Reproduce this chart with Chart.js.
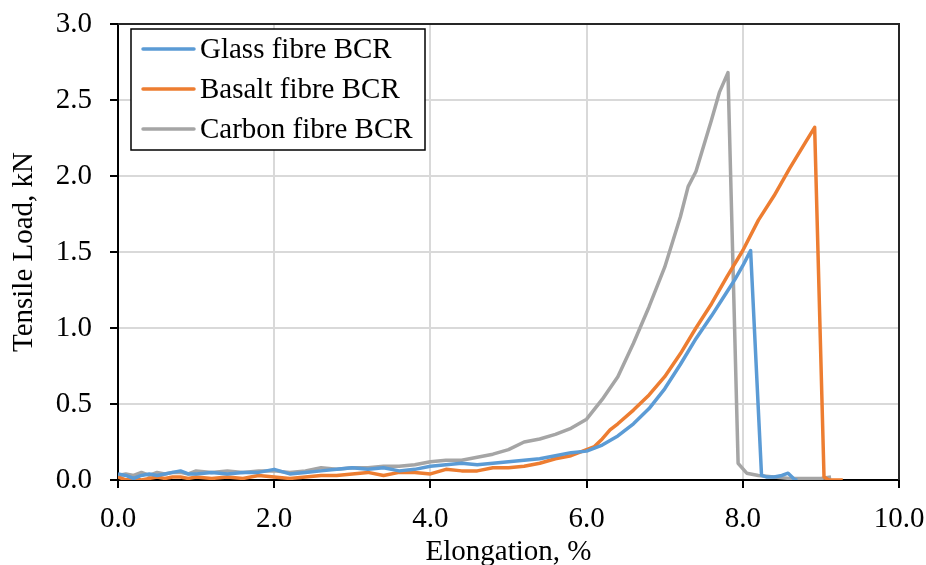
<!DOCTYPE html>
<html>
<head>
<meta charset="utf-8">
<script src="https://cdn.jsdelivr.net/npm/chart.js@4.4.1/dist/chart.umd.min.js"></script>
<style>
html,body{margin:0;padding:0;background:#fff;}
#wrap{width:926px;height:565px;position:relative;}
</style>
</head>
<body>
<div id="wrap"><canvas id="c" width="926" height="565"></canvas></div>
<script>
const seriesNames = ['Glass fibre BCR', 'Basalt fibre BCR', 'Carbon fibre BCR'];
const xTitle = 'Elongation, %';
const yTitle = 'Tensile Load, kN';

const glassX = [0,0.1,0.2,0.3,0.4,0.5,0.6,0.7,0.8,0.9,
  1.0,1.2,1.4,1.6,1.8,2.0,2.2,2.4,2.6,2.8,3.0,3.2,3.4,3.6,3.8,4.0,4.2,4.4,4.6,4.8,5.0,5.2,5.4,5.6,5.8,
  6.0,6.2,6.4,6.6,6.8,7.0,7.2,7.4,7.6,7.8,
  7.9,8.0,8.05,8.1,
  8.24,8.3,8.4,8.5,8.58,8.67,8.7];
const glassY = [0.04,0.03,0.01,0.03,0.04,0.03,0.04,0.05,0.06,0.04,
  0.04,0.05,0.04,0.05,0.05,0.07,0.04,0.05,0.06,0.07,0.08,0.07,0.08,0.06,0.07,0.09,0.10,0.11,0.10,0.11,0.12,0.13,0.14,0.16,0.18,
  0.19,0.23,0.29,0.37,0.47,0.60,0.76,0.93,1.08,1.24,
  1.32,1.41,1.46,1.51,
  0.03,0.02,0.02,0.03,0.045,0.0,0.0];

const basaltX = [0,0.1,0.2,0.3,0.4,0.5,0.6,0.7,0.8,0.9,
  1.0,1.2,1.4,1.6,1.8,2.0,2.2,2.4,2.6,2.8,3.0,3.2,3.4,3.6,3.8,4.0,4.2,4.4,4.6,4.8,5.0,5.2,5.4,5.6,5.8,
  6.0,6.1,6.2,6.3,6.4,6.6,6.8,7.0,7.2,7.4,7.6,7.8,8.0,8.2,8.4,8.6,8.8,
  8.92,9.04,9.1,9.28];
const basaltY = [0.02,0.0,0.01,0.0,0.01,0.02,0.01,0.02,0.02,0.01,
  0.02,0.01,0.02,0.01,0.03,0.02,0.01,0.02,0.03,0.03,0.04,0.05,0.03,0.05,0.05,0.04,0.07,0.06,0.06,0.08,0.08,0.09,0.11,0.14,0.16,
  0.20,0.22,0.27,0.33,0.37,0.46,0.56,0.68,0.83,1.00,1.16,1.34,1.51,1.71,1.87,2.05,2.22,
  2.32,0.02,0.0,0.0];

const carbonX = [0,0.1,0.2,0.3,0.4,0.5,0.6,0.7,0.8,0.9,
  1.0,1.2,1.4,1.6,1.8,2.0,2.2,2.4,2.6,2.8,3.0,3.2,3.4,3.6,3.8,4.0,4.2,4.4,4.6,4.8,5.0,5.2,5.4,5.6,5.8,
  6.0,6.2,6.4,6.6,6.8,7.0,7.2,7.3,7.4,7.6,
  7.7,7.81,7.94,8.05,8.2,8.4,8.6,8.8,9.0,9.13];
const carbonY = [0.03,0.04,0.03,0.05,0.03,0.05,0.04,0.05,0.05,0.04,
  0.06,0.05,0.06,0.05,0.06,0.06,0.05,0.06,0.08,0.07,0.08,0.08,0.09,0.09,0.10,0.12,0.13,0.13,0.15,0.17,0.20,0.25,0.27,0.30,0.34,
  0.40,0.53,0.68,0.90,1.14,1.40,1.73,1.93,2.03,2.37,
  2.55,2.68,0.11,0.045,0.03,0.02,0.01,0.01,0.01,0.02];

const xTicks = [0, 2, 4, 6, 8, 10];
const yTicks = [0, 0.5, 1.0, 1.5, 2.0, 2.5, 3.0];
const colors = ['#5B9BD5', '#ED7D31', '#A5A5A5'];

const FONT = "'Liberation Serif', 'Times New Roman', serif";

function pts(xs, ys){ return xs.map((x,i)=>({x:x, y:ys[i]})); }
function noOverflow(s){ s.paddingTop = 0; s.paddingBottom = 0; s.paddingLeft = 0; s.paddingRight = 0; }

const frame = {
  id:'frame',
  afterDatasetsDraw(chart){
    const {ctx, chartArea:a} = chart;
    ctx.save();
    ctx.strokeStyle = '#262626';
    ctx.lineWidth = 2;
    ctx.beginPath();
    ctx.moveTo(a.left, a.top); ctx.lineTo(a.right, a.top); ctx.lineTo(a.right, a.bottom);
    ctx.stroke();
    ctx.restore();
  },
  afterDraw(chart){
    const ctx = chart.ctx;
    ctx.save();
    const bx = 131, by = 29, bw = 294, bh = 121;
    ctx.fillStyle = '#fff';
    ctx.fillRect(bx, by, bw, bh);
    ctx.strokeStyle = '#000';
    ctx.lineWidth = 1.5;
    ctx.strokeRect(bx, by, bw, bh);
    const rows = [49, 89, 129];
    ctx.font = "29px " + FONT;
    ctx.textBaseline = 'middle';
    ctx.textAlign = 'left';
    chart.data.datasets.forEach((ds, i) => {
      ctx.strokeStyle = ds.borderColor;
      ctx.lineWidth = 3.5;
      ctx.lineCap = 'round';
      ctx.beginPath();
      ctx.moveTo(143, rows[i]); ctx.lineTo(194, rows[i]);
      ctx.stroke();
      ctx.fillStyle = '#000';
      ctx.fillText(ds.label, 200, rows[i] + 1);
    });
    ctx.restore();
  }
};

new Chart(document.getElementById('c'), {
  type: 'line',
  data: {
    datasets: [
      {label: seriesNames[0], data: pts(glassX, glassY), borderColor: colors[0]},
      {label: seriesNames[1], data: pts(basaltX, basaltY), borderColor: colors[1]},
      {label: seriesNames[2], data: pts(carbonX, carbonY), borderColor: colors[2]}
    ].map(d => Object.assign(d, {borderWidth: 3.5, pointRadius: 0, tension: 0, fill: false, borderJoinStyle: 'round'}))
  },
  options: {
    responsive: false,
    animation: false,
    layout: {padding: {top: 24, right: 27, left: 0, bottom: 0}},
    plugins: {legend: {display: false}, tooltip: {enabled: false}},
    scales: {
      x: {
        type: 'linear', min: 0, max: 10,
        afterBuildTicks(s){ s.ticks = xTicks.map(v => ({value: v})); },
        afterFit(s){ s.height = 85; noOverflow(s); },
        grid: {color: '#d9d9d9', lineWidth: 2, tickColor: '#000', tickLength: 8, tickWidth: 2},
        border: {color: '#000', width: 2},
        ticks: {color: '#000', font: {family: FONT, size: 29}, padding: 14, maxRotation: 0,
          callback: v => Number(v).toFixed(1)},
        title: {display: true, text: xTitle, color: '#000', font: {family: FONT, size: 29, lineHeight: 1.0}, padding: {top: 0, bottom: -2}}
      },
      y: {
        type: 'linear', min: 0, max: 3,
        afterBuildTicks(s){ s.ticks = yTicks.map(v => ({value: v})); },
        afterFit(s){ s.width = 118; noOverflow(s); },
        grid: {color: '#d9d9d9', lineWidth: 2, tickColor: '#000', tickLength: 8, tickWidth: 2},
        border: {color: '#000', width: 2},
        ticks: {color: '#000', font: {family: FONT, size: 29}, padding: 18,
          callback: v => Number(v).toFixed(1)},
        title: {display: true, text: yTitle, color: '#000', font: {family: FONT, size: 29, lineHeight: 1.0}, padding: {top: 10, bottom: 0}}
      }
    }
  },
  plugins: [frame]
});
</script>
</body>
</html>
